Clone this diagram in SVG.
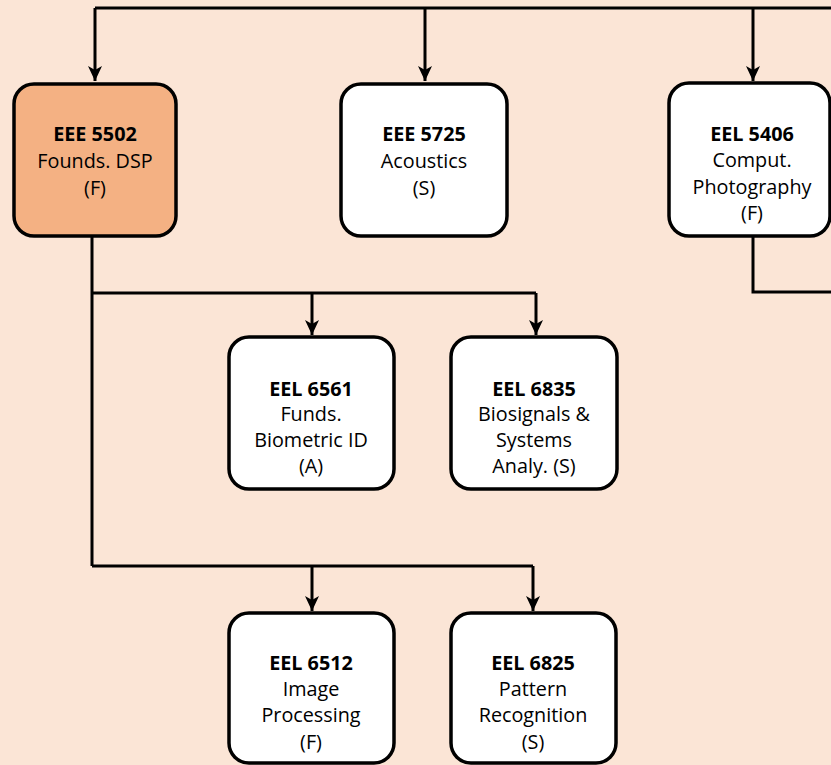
<svg xmlns="http://www.w3.org/2000/svg" width="831" height="765" viewBox="0 0 831 765">
<style>
.box{fill:#ffffff;stroke:#000;stroke-width:3.5}
.hl{fill:#F4B183}
.c{fill:none;stroke:#000;stroke-width:3}
text{font-family:"Open Sans","Noto Sans","Liberation Sans",sans-serif;font-size:19.8px;text-anchor:middle;fill:#000}
.b{font-weight:bold}
</style>
<defs>
<marker id="ah" markerUnits="userSpaceOnUse" markerWidth="16" markerHeight="16" refX="15" refY="8" orient="auto" viewBox="0 0 16 16">
<path d="M0,1 L15,8 L0,15 L4,8 z" fill="#000"/>
</marker>
</defs>
<rect width="831" height="765" fill="#FBE5D6"/>
<g id="connectors">
<path class="c" d="M95,8 H833"/>
<path class="c" d="M95,8 V81" marker-end="url(#ah)"/>
<path class="c" d="M425,8 V81" marker-end="url(#ah)"/>
<path class="c" d="M753,8 V81" marker-end="url(#ah)"/>
<path class="c" d="M753,236 V292 H833"/>
<path class="c" d="M92,236 V566"/>
<path class="c" d="M92,293 H536"/>
<path class="c" d="M312,293 V335" marker-end="url(#ah)"/>
<path class="c" d="M536,293 V335" marker-end="url(#ah)"/>
<path class="c" d="M92,566 H533"/>
<path class="c" d="M312,566 V611" marker-end="url(#ah)"/>
<path class="c" d="M533,566 V611" marker-end="url(#ah)"/>
</g>
<g id="n-eee5502">
<rect class="box hl" x="14" y="84" width="162" height="152" rx="20"/>
<text x="95" y="141" class="b">EEE 5502</text>
<text x="95" y="168">Founds. DSP</text>
<text x="95" y="195">(F)</text>
</g>
<g id="n-eee5725">
<rect class="box" x="341" y="84" width="166" height="152" rx="20"/>
<text x="424" y="141" class="b">EEE 5725</text>
<text x="424" y="168">Acoustics</text>
<text x="424" y="195">(S)</text>
</g>
<g id="n-eel5406">
<rect class="box" x="669" y="83" width="161" height="153" rx="20"/>
<text x="752" y="141" class="b">EEL 5406</text>
<text x="752" y="167">Comput.</text>
<text x="752" y="194">Photography</text>
<text x="752" y="220">(F)</text>
</g>
<g id="n-eel6561">
<rect class="box" x="229" y="337" width="165" height="152" rx="20"/>
<text x="311" y="396" class="b">EEL 6561</text>
<text x="311" y="421">Funds.</text>
<text x="311" y="447">Biometric ID</text>
<text x="311" y="473">(A)</text>
</g>
<g id="n-eel6835">
<rect class="box" x="451" y="337" width="166" height="152" rx="20"/>
<text x="534" y="396" class="b">EEL 6835</text>
<text x="534" y="421">Biosignals &amp;</text>
<text x="534" y="447">Systems</text>
<text x="534" y="473">Analy. (S)</text>
</g>
<g id="n-eel6512">
<rect class="box" x="229" y="613" width="165" height="150" rx="20"/>
<text x="311" y="670" class="b">EEL 6512</text>
<text x="311" y="696">Image</text>
<text x="311" y="722">Processing</text>
<text x="311" y="749">(F)</text>
</g>
<g id="n-eel6825">
<rect class="box" x="451" y="613" width="165" height="150" rx="20"/>
<text x="533" y="670" class="b">EEL 6825</text>
<text x="533" y="696">Pattern</text>
<text x="533" y="722">Recognition</text>
<text x="533" y="749">(S)</text>
</g>
</svg>
